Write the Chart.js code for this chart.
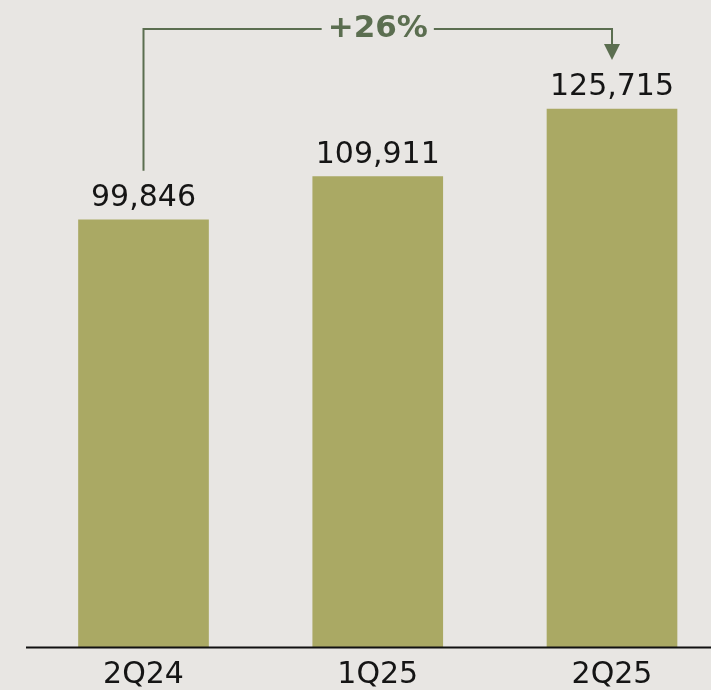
<!DOCTYPE html>
<html>
<head>
<meta charset="utf-8">
<script src="https://cdn.jsdelivr.net/npm/chart.js@4"></script>
<style>
  html, body { margin: 0; padding: 0; background: #e8e6e3; overflow: hidden; }
  #wrap { width: 711px; height: 690px; }
</style>
</head>
<body>
<div id="wrap"><canvas id="barChart"></canvas></div>
<script>
const categories = ['2Q24', '1Q25', '2Q25'];
const values = [99846, 109911, 125715];
const growthLabel = '+26%';

const FONT = '"DejaVu Sans", sans-serif';
const GREEN = '#5b6e50';

// value labels, baseline and growth bracket
const overlay = {
    id: 'overlay',
    afterDatasetsDraw(chart) {
        const ctx = chart.ctx;
        const area = chart.chartArea;
        const bars = chart.getDatasetMeta(0).data;

        ctx.save();
        // baseline
        ctx.strokeStyle = '#111';
        ctx.lineWidth = 2;
        ctx.beginPath();
        ctx.moveTo(area.left, area.bottom);
        ctx.lineTo(chart.width, area.bottom);
        ctx.stroke();

        // value labels
        ctx.fillStyle = '#151515';
        ctx.font = '30px ' + FONT;
        ctx.textAlign = 'center';
        ctx.textBaseline = 'alphabetic';
        bars.forEach((bar, i) => {
            ctx.fillText(values[i].toLocaleString('en-US'), bar.x, bar.y - 14);
        });

        // growth bracket
        const first = bars[0];
        const last = bars[bars.length - 1];
        const topY = 29;
        const midX = (first.x + last.x) / 2;
        ctx.font = 'bold 31px ' + FONT;
        const tw = ctx.measureText(growthLabel).width;
        ctx.strokeStyle = GREEN;
        ctx.fillStyle = GREEN;
        ctx.lineWidth = 2;
        ctx.beginPath();
        ctx.moveTo(first.x, first.y - 49);
        ctx.lineTo(first.x, topY);
        ctx.lineTo(midX - tw / 2 - 6, topY);
        ctx.moveTo(midX + tw / 2 + 6, topY);
        ctx.lineTo(last.x, topY);
        ctx.lineTo(last.x, last.y - 64);
        ctx.stroke();
        ctx.beginPath();
        ctx.moveTo(last.x - 8, last.y - 65);
        ctx.lineTo(last.x + 8, last.y - 65);
        ctx.lineTo(last.x, last.y - 49);
        ctx.closePath();
        ctx.fill();
        ctx.textBaseline = 'middle';
        ctx.fillText(growthLabel, midX, topY);
        ctx.restore();
    }
};

const ctx = document.getElementById('barChart').getContext('2d');
const barChart = new Chart(ctx, {
    type: 'bar',
    data: {
        datasets: [{
            data: values.map((v, i) => ({ x: i, y: v })),
            backgroundColor: '#aaa964',
            borderWidth: 0,
            barThickness: 130
        }]
    },
    options: {
        responsive: true,
        maintainAspectRatio: false,
        animation: false,
        layout: { padding: { left: 26, right: 0, top: 0, bottom: 0 } },
        plugins: {
            legend: { display: false },
            tooltip: { enabled: false }
        },
        scales: {
            x: {
                type: 'linear',
                offset: false,
                min: -0.5016,
                max: 2.4226,
                grid: { display: false, drawTicks: false },
                border: { display: false },
                afterBuildTicks: scale => {
                    scale.ticks = categories.map((c, i) => ({ value: i }));
                },
                afterFit: scale => { scale.height = 42.5; },
                ticks: {
                    autoSkip: false,
                    maxRotation: 0,
                    padding: 10,
                    color: '#151515',
                    font: { family: FONT, size: 30 },
                    callback: value => categories[value]
                }
            },
            y: {
                display: false,
                min: 0,
                max: 151150
            }
        }
    },
    plugins: [overlay]
});
</script>
</body>
</html>
